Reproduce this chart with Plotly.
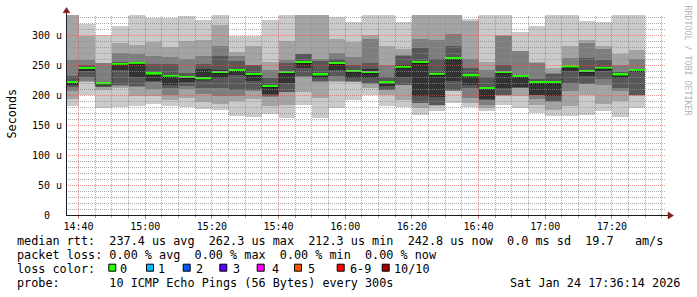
import math
import plotly.graph_objects as go
from datetime import datetime, timedelta

DAY = "2026-01-24"

# end time of each 5-minute RRD step (300 s)
step_end = ["14:40", "14:45", "14:50", "14:55", "15:00", "15:05", "15:10", "15:15",
            "15:20", "15:25", "15:30", "15:35", "15:40", "15:45", "15:50", "15:55",
            "16:00", "16:05", "16:10", "16:15", "16:20", "16:25", "16:30", "16:35",
            "16:40", "16:45", "16:50", "16:55", "17:00", "17:05", "17:10", "17:15",
            "17:20", "17:25", "17:30"]

# sorted ping round-trip times per step, microseconds (ping1 = fastest)
ping1 = [182, 201.6, 179.4, 181, 182.5, 186, 182.5, 181, 178, 176.5, 166, 164, 170, 162.6, 185, 163, 180, 193,
         201.6, 182, 181.5, 168, 173.7, 187, 181, 173.7, 185, 180, 171, 165, 166.5, 168, 175, 164, 178.5]
ping2 = [194.5, 223, 210, 213.5, 200, 200, 193, 196.6, 188.5, 185.5, 190.5, 194.5, 182, 184, 205.5, 196, 223, 222,
         213, 201.6, 193, 179.4, 183, 207, 187.7, 179.4, 199.5, 199, 185, 176.5, 183, 201.6, 186.6, 190.5, 199]
ping3 = [207, 224, 214, 216, 215, 211, 201.6, 211.7, 202, 200, 200, 208, 198, 205.5, 231, 222, 224, 223,
         220, 209, 217, 187, 184, 208, 196, 185, 200.5, 212.5, 195, 189.5, 207, 219, 218.4, 207, 201]
ping4 = [214.5, 231, 214.5, 218.4, 216, 222, 213, 216.7, 213, 213, 210, 209, 200, 206.5, 232, 224, 232, 224,
         221, 210, 218.4, 188.3, 185, 210, 213, 193, 201.6, 213.5, 200.5, 190.5, 220.5, 220, 228, 213.5, 201.6]
ping5 = [218, 240.6, 217, 243.5, 231, 224, 218, 222, 226.7, 229.6, 235, 224, 203, 221.7, 246, 230, 243, 229.6,
         229.6, 216.7, 231, 199, 198, 224, 217.5, 193.8, 213, 214.5, 201.6, 199, 240.6, 233.4, 240.6, 229.6, 242]
ping6 = [224, 248.5, 221, 254, 255, 238, 234.5, 233.5, 244.6, 243.5, 244.6, 238, 216.7, 240, 256, 236, 255.5, 242.3,
         245, 225, 252, 258.5, 237.6, 264.7, 235, 214.5, 240.6, 234, 223.5, 224, 250, 242.6, 247.5, 237, 243.5]
ping7 = [232, 252, 221.5, 255.5, 256, 253, 253.5, 238.5, 253, 267, 257.7, 251.5, 229.6, 254, 269, 258, 262, 252,
         254, 231, 267, 280, 261, 283.6, 247, 231, 252, 235, 228, 237, 252, 263, 260, 239, 244.6]
ping8 = [259, 259, 254, 272, 270, 267, 264, 261.5, 266, 282.5, 265.7, 252, 243.5, 260, 270, 262, 271.5, 264.7,
         295, 252, 268.6, 295, 292.5, 303.7, 261, 243, 299, 274.5, 255, 238, 263, 288, 277.5, 252, 261]
ping9 = [340, 299, 254.7, 287.5, 285, 289, 282, 292, 292.5, 319, 272.4, 283.6, 257, 291, 340, 340, 294, 289,
         302, 282.5, 278, 340, 340, 340, 325, 255.7, 302, 275.5, 257, 246, 283.6, 293.7, 283.6, 270.5, 275.8]
ping10 = [345, 320, 302, 316, 340, 330, 330, 333, 326.5, 340, 300, 300, 326.5, 340, 345, 345, 332, 323.5,
          340, 340, 322.6, 345, 345, 345, 327.5, 340, 340, 307, 316, 340, 340, 325, 322.6, 340, 340]
median = [222, 245.6, 220, 253, 254.5, 236.5, 233, 231, 228.5, 239, 242.5, 235.6, 215.5, 239, 255.5, 235, 254, 240.6,
          239, 221.7, 248, 256, 236, 262.3, 233.5, 212.3, 239, 232.6, 222, 222, 248.5, 240.6, 246.5, 235, 242.8]

x_tick_labels = ["14:40", "15:00", "15:20", "15:40", "16:00", "16:20", "16:40", "17:00", "17:20"]
y_ticks = [0, 50, 100, 150, 200, 250, 300]
y_tick_text = ["0\u00a0\u00a0", "50 u", "100 u", "150 u", "200 u", "250 u", "300 u"]

legend_lines = [
    "median rtt:  237.4 us avg  262.3 us max  212.3 us min  242.8 us now  0.0 ms sd  19.7   am/s",
    "packet loss: 0.00 % avg  0.00 % max  0.00 % min  0.00 % now",
    "loss color:",
    "probe:       10 ICMP Echo Pings (56 Bytes) every 300s",
]
loss_labels = ["0", "1", "2", "3", "4", "5", "6-9", "10/10"]
loss_colors = ["#26ff00", "#00b8ff", "#0059ff", "#5e00ff", "#ff00ff", "#ff5500", "#ff0000", "#a10000"]
stamp = "Sat Jan 24 17:36:14 2026"
watermark = "RRDTOOL / TOBI OETIKER"

# ---------------------------------------------------------------------------
W, H = 697, 297
L, R, T, B = 66, 31, 15, 82
PW, PH = W - L - R, H - T - B
MONO = "DejaVu Sans Mono"

def px(xp):
    return (xp - L) / PW

def py(yp):
    return (H - B - yp) / PH

step = timedelta(minutes=5)
t_end = [datetime.fromisoformat(f"{DAY} {s}:00") for s in step_end]
centers = [t - step / 2 for t in t_end]
starts = [t - step for t in t_end]
x0 = datetime.fromisoformat(f"{DAY} 14:36:14")
x1 = datetime.fromisoformat(f"{DAY} 17:36:14")
SPAN = (x1 - x0).total_seconds()
ymax = 335

fig = go.Figure()
pings = [ping1, ping2, ping3, ping4, ping5, ping6, ping7, ping8, ping9, ping10]
shades = ["#cacaca", "#a4a4a4", "#7e7e7e", "#585858", "#323232"]
for i, c in enumerate(shades):
    lo, hi = pings[i], pings[9 - i]
    fig.add_bar(x=centers, base=lo, y=[h - l for l, h in zip(lo, hi)], width=300000,
                marker=dict(color=c, line=dict(width=0)), hoverinfo="skip")

fig.add_scatter(x=starts + [t_end[-1]], y=[m - 2.2 for m in median] + [median[-1] - 2.2],
                mode="lines", line=dict(color="#202020", width=1, shape="hv"), hoverinfo="skip")
fig.add_bar(x=centers, base=[m - 1.6 for m in median], y=[3.8] * len(median), width=300000,
            marker=dict(color=loss_colors[0], line=dict(width=0)), hoverinfo="skip")

# grid drawn on top of the smoke (as rrdtool does), snapped to pixel centres
minor_col = "rgba(143,143,143,0.75)"
major_col = "rgba(222,79,79,0.6)"

def snap_x(t):
    xp = L + (t - x0).total_seconds() / SPAN * PW
    xp = math.floor(xp) + 0.5
    return x0 + timedelta(seconds=(xp - L) / PW * SPAN)

def snap_y(v):
    yp = T + (ymax - v) / ymax * PH
    yp = math.floor(yp) + 0.5
    return ymax - (yp - T) * ymax / PH

major_x = [datetime.fromisoformat(f"{DAY} {s}:00") for s in x_tick_labels]
minor_x = []
t = datetime.fromisoformat(f"{DAY} 14:40:00")
while t < x1:
    if t not in major_x:
        minor_x.append(t)
    t += step
minor_y = [v for v in range(10, ymax, 10) if v % 50]
major_y = [v for v in y_ticks if v > 0]

def vlines(xs):
    X, Y = [], []
    for x in xs:
        sx = snap_x(x)
        X += [sx, sx, None]
        Y += [0, ymax, None]
    return X, Y

def hlines(ys):
    X, Y = [], []
    for y in ys:
        sy = snap_y(y)
        X += [x0, x1, None]
        Y += [sy, sy, None]
    return X, Y

for (X, Y), col in [(vlines(minor_x), minor_col), (hlines(minor_y), minor_col),
                    (vlines(major_x), major_col), (hlines(major_y), major_col)]:
    fig.add_scatter(x=X, y=Y, mode="lines", line=dict(color=col, width=1, dash="1px,1px"),
                    hoverinfo="skip", connectgaps=False)

fig.update_layout(
    width=W, height=H, margin=dict(l=L, r=R, t=T, b=B, pad=0),
    paper_bgcolor="white", plot_bgcolor="white",
    barmode="overlay", bargap=0, showlegend=False,
    font=dict(family=MONO, color="black"),
)
fig.update_xaxes(type="date", range=[x0, x1], tickvals=major_x, ticktext=x_tick_labels,
                 showgrid=False, zeroline=False, showline=False,
                 ticks="outside", ticklen=3, tickcolor=major_col, tickwidth=1,
                 ticklabelstandoff=-1,
                 tickfont=dict(family=MONO, size=10, color="black"),
                 minor=dict(ticks="outside", ticklen=2, tickcolor=minor_col,
                            dtick=300000, tick0=f"{DAY} 14:40:00", showgrid=False))
fig.update_yaxes(range=[0, ymax], tickvals=y_ticks, ticktext=y_tick_text,
                 showgrid=False, zeroline=False, showline=False, ticks="",
                 ticklabelstandoff=3,
                 tickfont=dict(family=MONO, size=10, color="black"))

shapes = []
axis_col = "#1f1f1f"
arrow_col = "#801f1f"
# axes with arrows
shapes.append(dict(type="line", xref="paper", yref="paper", x0=px(66.5), x1=px(66.5), y0=py(215.5), y1=py(12),
                   line=dict(color=axis_col, width=1)))
shapes.append(dict(type="line", xref="paper", yref="paper", x0=px(66), x1=px(669), y0=py(215.5), y1=py(215.5),
                   line=dict(color=axis_col, width=1)))
shapes.append(dict(type="path", xref="paper", yref="paper",
                   path=f"M {px(63)} {py(12.8)} L {px(66.5)} {py(7.5)} L {px(70)} {py(12.8)} Z",
                   fillcolor=arrow_col, line=dict(color=arrow_col, width=0.5)))
shapes.append(dict(type="path", xref="paper", yref="paper",
                   path=f"M {px(668)} {py(212)} L {px(673.5)} {py(215.5)} L {px(668)} {py(219)} Z",
                   fillcolor=arrow_col, line=dict(color=arrow_col, width=0.5)))

annotations = []
FS = 11.8
line_y = [241, 255, 269, 283.3]
for txt, yc in zip(legend_lines, line_y):
    annotations.append(dict(text=txt.replace(" ", "\u00a0"), xref="paper", yref="paper",
                            x=px(15.5), y=py(yc), xanchor="left", yanchor="middle",
                            showarrow=False, borderpad=0,
                            font=dict(family=MONO, size=FS, color="black")))
annotations.append(dict(text=stamp.replace(" ", "\u00a0"), xref="paper", yref="paper",
                        x=px(680.5), y=py(line_y[3]), xanchor="right", yanchor="middle",
                        showarrow=False, borderpad=0,
                        font=dict(family=MONO, size=FS, color="black")))

box_x = [108.3, 146, 182.7, 219.3, 256.7, 294, 336.7, 381.7]
label_x = [119.3, 157.2, 195.3, 232.3, 270.9, 307.2, 348.5, 392.5]
for bx, lx, lab, col in zip(box_x, label_x, loss_labels, loss_colors):
    shapes.append(dict(type="rect", xref="paper", yref="paper",
                       x0=px(bx + 0.5), x1=px(bx + 7.5), y0=py(264.2), y1=py(271.2),
                       fillcolor=col, line=dict(color="black", width=1)))
    annotations.append(dict(text=lab, xref="paper", yref="paper", x=px(lx), y=py(line_y[2]),
                            xanchor="left", yanchor="middle", showarrow=False, borderpad=0,
                            font=dict(family=MONO, size=FS, color="black")))

annotations.append(dict(text="Seconds", xref="paper", yref="paper", x=px(11.5), y=py(114),
                        xanchor="center", yanchor="middle", textangle=-90, showarrow=False,
                        borderpad=0, font=dict(family=MONO, size=FS, color="black")))
annotations.append(dict(text=watermark.replace(" ", "\u00a0"), xref="paper", yref="paper",
                        x=px(687.5), y=py(60), xanchor="center", yanchor="middle", textangle=90,
                        showarrow=False, borderpad=0,
                        font=dict(family=MONO, size=8.3, color="#b4b4b4")))

fig.update_layout(shapes=shapes, annotations=annotations)
fig.write_html("out.html")
